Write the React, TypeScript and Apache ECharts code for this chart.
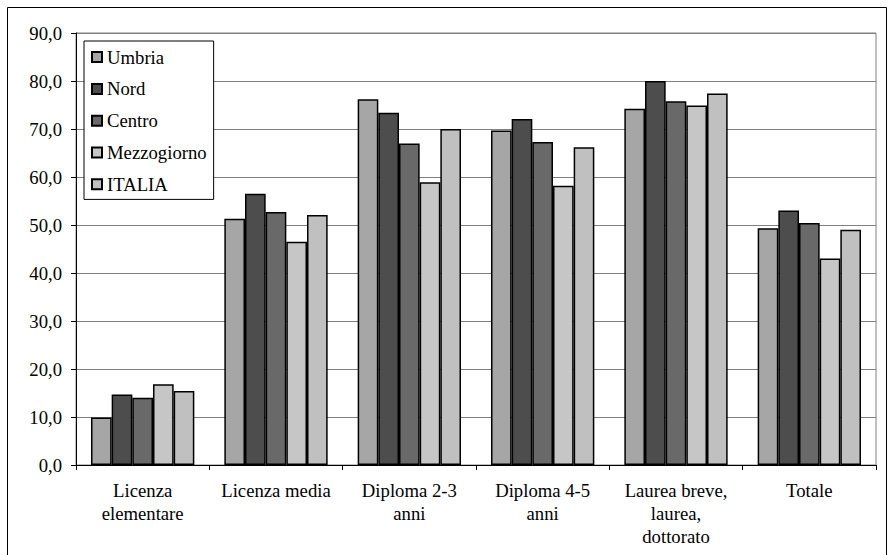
import React, { useEffect, useRef } from "react";
import * as echarts from "echarts";

const categories = [
  "Licenza\nelementare",
  "Licenza media",
  "Diploma 2-3\nanni",
  "Diploma 4-5\nanni",
  "Laurea breve,\nlaurea,\ndottorato",
  "Totale",
];
const seriesNames = ["Umbria", "Nord", "Centro", "Mezzogiorno", "ITALIA"];
const umbria = [9.9, 51.3, 76.2, 69.7, 74.2, 49.3];
const nord = [14.7, 56.5, 73.4, 72.1, 80.0, 53.0];
const centro = [14.0, 52.7, 67.0, 67.3, 75.8, 50.4];
const mezzogiorno = [16.8, 46.5, 58.9, 58.2, 74.9, 43.0];
const italia = [15.4, 52.1, 70.0, 66.2, 77.4, 49.0];
const colors = ["#a6a6a6", "#4d4d4d", "#696969", "#c6c6c6", "#c0c0c0"];

const FONT = "Liberation Serif";
const FS = 18.7;

export default function App() {
  const ref = useRef<HTMLDivElement>(null);
  useEffect(() => {
    if (!ref.current) return;
    const chart = echarts.init(ref.current, undefined, { renderer: "svg" });
    const data = [umbria, nord, centro, mezzogiorno, italia];
    chart.setOption({
      animation: false,
      textStyle: { fontFamily: FONT },
      graphic: [
        {
          type: "rect",
          shape: { x: 7.5, y: 7.5, width: 879, height: 560 },
          style: { fill: "none", stroke: "#000", lineWidth: 1 },
          z: -10,
        },
      ],
      legend: {
        orient: "vertical",
        left: 84,
        top: 41,
        padding: [6.6, 7, 5.6, 7],
        itemWidth: 10,
        itemHeight: 10,
        itemGap: 12.8,
        icon: "rect",
        backgroundColor: "#fff",
        borderColor: "#000",
        borderWidth: 1,
        textStyle: { fontFamily: FONT, fontSize: FS, color: "#000" },
        data: seriesNames,
      },
      grid: {
        left: 76,
        right: 12,
        top: 33,
        bottom: 90,
        show: true,
        borderColor: "#808080",
        borderWidth: 1,
        containLabel: false,
      },
      xAxis: {
        type: "category",
        data: categories,
        axisLine: { lineStyle: { color: "#000", width: 1 } },
        axisTick: { show: true, length: 5, lineStyle: { color: "#000" } },
        axisLabel: {
          interval: 0,
          margin: 14,
          fontFamily: FONT,
          fontSize: FS,
          color: "#000",
          lineHeight: 23,
        },
      },
      yAxis: {
        type: "value",
        min: 0,
        max: 90,
        interval: 10,
        axisLine: { show: true, lineStyle: { color: "#000", width: 1 } },
        axisTick: { show: true, length: 5, lineStyle: { color: "#000" } },
        splitLine: { show: true, lineStyle: { color: "#808080", width: 1 } },
        axisLabel: {
          margin: 14,
          fontFamily: FONT,
          fontSize: FS,
          color: "#000",
          formatter: (v: number) => v.toFixed(1).replace(".", ","),
        },
      },
      series: seriesNames.map((name, i) => ({
        name,
        type: "bar",
        data: data[i],
        barGap: "0%",
        barCategoryGap: "22.5%",
        itemStyle: { color: colors[i], borderColor: "#000", borderWidth: 1.5 },
      })),
    });
    return () => chart.dispose();
  }, []);
  return (
    <div
      ref={ref}
      style={{ position: "absolute", left: 0, top: 0, width: 888, height: 555, background: "#fff" }}
    />
  );
}
